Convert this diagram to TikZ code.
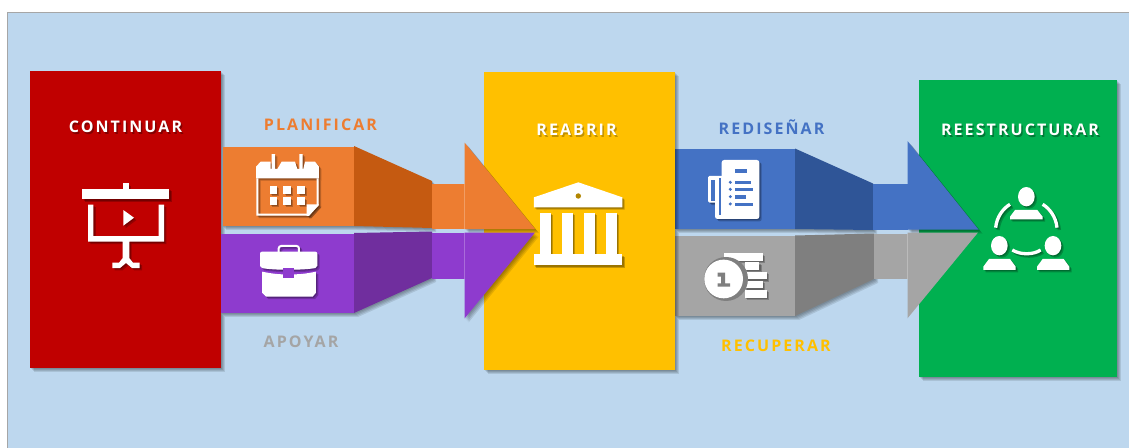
\documentclass[tikz,border=0pt]{standalone}
\usepackage{fontspec}
\newfontfamily\labfont[LetterSpace=13,BoldFont={Open Sans Bold}]{Open Sans}
\definecolor{bg}{HTML}{BDD7EE}
\definecolor{cred}{HTML}{C00000}
\definecolor{corange}{HTML}{ED7D31}
\definecolor{dorange}{HTML}{C55A11}
\definecolor{cpurple}{HTML}{8E3BCE}
\definecolor{dpurple}{HTML}{702E9E}
\definecolor{cyellow}{HTML}{FFC000}
\definecolor{cblue}{HTML}{4472C4}
\definecolor{dblue}{HTML}{2F5597}
\definecolor{cgray}{HTML}{A5A5A5}
\definecolor{dgray}{HTML}{7F7F7F}
\definecolor{cgreen}{HTML}{00B050}
\tikzset{
  panel/.style={inner sep=0pt,outer sep=0pt,minimum width=#1},
  lab/.style={inner sep=0pt,font=\labfont\bfseries\fontsize{16}{18}\selectfont,text height=11.4pt,text depth=0pt},
}
\newcommand\softshadow[1]{\foreach \d in {1,2,3,4}{\fill[black,opacity=.10,shift={(\d,\d)}] #1;}}
\newcommand\putIcon[1]{\foreach \d in {1.2,2.4}{\begin{scope}[shift={(\d,\d)},opacity=.22]#1{black}\end{scope}}#1{white}}
\newcommand\iconScreen[1]{\begin{scope}[fill=#1]
  \fill (82.3,189) rectangle (169.3,199.3);
  \fill (123.3,183.3) rectangle (128.7,189);
  \fill (88,204.7) -- (93.4,204.7) -- (93.4,236) -- (158.6,236) -- (158.6,204.7) -- (164,204.7) -- (164,241.7) -- (129.3,241.7) -- (129.3,258) -- (133,262.7) -- (139.7,262.7) -- (139.7,268) -- (132,268) -- (126,263) -- (120,268) -- (112.3,268) -- (112.3,262.7) -- (119,262.7) -- (122.7,258) -- (122.7,241.7) -- (88,241.7) -- cycle;
  \fill (123.3,210) -- (134,217.7) -- (123.3,225.7) -- cycle;
\end{scope}}
\newcommand\iconCal[1]{\begin{scope}[shift={(240,145)},x=.3333pt,y=-.3333pt,fill=#1,draw=#1]
  \fill (48,100) -- (48,65) -- (62,50) -- (92,50) -- (92,72) -- (95,72) -- (95,27) -- (105,27) -- (105,72) -- (112,72) -- (125,50) -- (165,50) -- (172,72) -- (178,72) -- (178,27) -- (188,27) -- (188,72) -- (190,72) -- (195,50) -- (225,50) -- (237,65) -- (237,100) -- cycle;
  \draw[line width=2pt] (52,100) -- (52,209) -- (205,209) -- (233,180) -- (233,100);
  \fill (200,213) -- (200,178) -- (237,178) -- (207,213) -- cycle;
  \foreach \x/\w in {90/20,130/22,172/23}{\foreach \y/\h in {122/25,157/23}{\fill (\x,\y) rectangle ++(\w,\h);}}
\end{scope}}
\newcommand\iconCase[1]{\begin{scope}[shift={(240,145)},x=.3333pt,y=-.3333pt,fill=#1,draw=#1]
  \draw[line width=2pt,rounded corners=2.5pt] (116,322) -- (116,303) -- (177,303) -- (177,322);
  \fill[rounded corners=2pt] (60,368) -- (60,320) -- (232,320) -- (232,368) .. controls (190,376) and (100,376) .. (60,368) -- cycle;
  \fill (66,380) .. controls (100,387) and (120,388) .. (130,388) -- (130,398) -- (162,398) -- (162,388) .. controls (175,388) and (195,387) .. (228,380) -- (228,443) -- (218,455) -- (78,455) -- (66,443) -- cycle;
\end{scope}}
\newcommand\iconBank[1]{\begin{scope}[shift={(350,60)},x=.3333pt,y=-.3333pt,fill=#1]
  \fill (552,412) -- (685,367) -- (817,412) -- (817,442) -- (552,442) -- cycle;
  \foreach \x in {570,636,702,768}{\fill (\x,459) rectangle ++(32,124);}
  \fill (552,583) rectangle (817,616);
\end{scope}}
\newcommand\iconDoc[1]{\begin{scope}[shift={(670,70)},x=.3333pt,y=-.3333pt,fill=#1]
  \fill[rounded corners=1.5pt] (114,318) rectangle (165,398);
  \fill[rounded corners=2.5pt] (155,270) -- (268,270) -- (268,447) -- (135,447) -- (135,390) -- (155,390) -- cycle;
\end{scope}}
\newcommand\iconCoins[1]{\begin{scope}[shift={(670,70)},x=.3333pt,y=-.3333pt,fill=#1]
  \fill (162,550) rectangle (279,572);
  \fill (225,577) rectangle (268,600);
  \fill (225,605) rectangle (290,628);
  \fill (225,632) rectangle (278,655);
  \fill (225,660) rectangle (290,683);
\end{scope}}
\newcommand\iconPeople[1]{\begin{scope}[shift={(980,175)},x=.3333pt,y=-.3333pt,fill=#1,draw=#1]
  \fill (139,65) ellipse [x radius=25,y radius=29];
  \fill (58,212) ellipse [x radius=25,y radius=29];
  \fill (219,212) ellipse [x radius=25,y radius=29];
  \fill (90,133) -- (90,125) -- (105,105) -- (172,105) -- (188,125) -- (188,133) -- cycle;
  \fill (10,285) -- (10,275) -- (27,252) -- (90,252) -- (107,275) -- (107,285) -- cycle;
  \fill (171,285) -- (171,275) -- (188,252) -- (251,252) -- (268,275) -- (268,285) -- cycle;
  \draw[line width=3.3pt] (47,158) .. controls (50,125) and (70,100) .. (90,88);
  \draw[line width=3.3pt] (188,88) .. controls (208,100) and (228,125) .. (231,158);
  \draw[line width=3.3pt] (97,225) .. controls (120,240) and (160,240) .. (182,225);
\end{scope}}
\begin{document}
\begin{tikzpicture}[x=1pt,y=-1pt]
\useasboundingbox (0,0) rectangle (1129,447);
\clip (0,0) rectangle (1129,447);
\fill[white] (0,0) rectangle (1129,447);
\draw[fill=bg,draw=black!35,line width=.7pt] (7,12) rectangle (1140,460);

% red panel
\softshadow{(30,71) rectangle (221,368)}
\node[panel=191pt,minimum height=297pt,fill=cred] (continuar) at (125.5,219.5) {};

% orange and purple bands
\softshadow{(222,147) rectangle (354,226)}
\fill[corange] (222.5,147) rectangle (354,226);
\softshadow{(354,146) -- (432,181) -- (432,228) -- (354,226) -- cycle}
\fill[dorange] (354,146) -- (432,181) -- (432,228) -- (354,226) -- cycle;
\softshadow{(221,233.5) rectangle (354,313)}
\fill[cpurple] (221,233.5) rectangle (354,313);
\softshadow{(354,233) -- (432,231.5) -- (432,278) -- (354,313) -- cycle}
\fill[dpurple] (354,233) -- (432,231.5) -- (432,278) -- (354,313) -- cycle;
\fill[corange] (432,183.5) rectangle (465,229);
\fill[cpurple] (432,232.5) rectangle (465,279);

% blue and gray bands
\softshadow{(675,149) rectangle (795,229)}
\fill[cblue] (675,149) rectangle (795,229);
\softshadow{(795,148.5) -- (873,183.5) -- (873,230) -- (795,229) -- cycle}
\fill[dblue] (795,148.5) -- (873,183.5) -- (873,230) -- (795,229) -- cycle;
\softshadow{(675,235.7) rectangle (795,315.7)}
\fill[cgray] (675,235.7) rectangle (795,315.7);
\softshadow{(795,235.5) -- (874,233.5) -- (874,279) -- (795,316) -- cycle}
\fill[dgray] (795,235.5) -- (874,233.5) -- (874,279) -- (795,316) -- cycle;
\fill[cblue] (873,183.5) rectangle (908,230);
\fill[cgray] (874,233.5) rectangle (908,279);

% yellow and green panels
\softshadow{(484,72) rectangle (675,370)}
\node[panel=191pt,minimum height=298pt,fill=cyellow] (reabrir) at (579.5,221) {};
\softshadow{(919,80) rectangle (1117,377)}
\node[panel=198pt,minimum height=297pt,fill=cgreen] (reestructurar) at (1018,228.5) {};

% arrow heads
\softshadow{(464.5,142.5) -- (535,229) -- (464.5,229) -- cycle}
\fill[corange] (464.5,142.5) -- (535,229) -- (464.5,229) -- cycle;
\softshadow{(464.5,232.5) -- (535,232.5) -- (464.5,318.5) -- cycle}
\fill[cpurple] (464.5,232.5) -- (535,232.5) -- (464.5,318.5) -- cycle;
\softshadow{(907.5,141) -- (978.5,229.5) -- (907.5,229.5) -- cycle}
\fill[cblue] (907.5,141) -- (978.5,229.5) -- (907.5,229.5) -- cycle;
\fill[cgray] (907.5,232.5) -- (978,232.5) -- (907.5,318.3) -- cycle;
\draw[white,opacity=.25,line width=.5pt] (464.5,183.5) -- (464.5,229);
\draw[white,opacity=.25,line width=.5pt] (464.5,232.5) -- (464.5,279);
\draw[white,opacity=.25,line width=.5pt] (907.5,233.5) -- (907.5,279);

% icons
\putIcon\iconScreen
\putIcon\iconCal
\putIcon\iconCase
\begin{scope}[shift={(240,145)},x=.3333pt,y=-.3333pt]
  \fill[cpurple] (130,368) rectangle (162,398);
\end{scope}
\putIcon\iconBank
\fill[cyellow!70!black] (578.3,196) circle (2.7);
\putIcon\iconDoc
\begin{scope}[shift={(670,70)},x=.3333pt,y=-.3333pt,fill=cblue]
  \fill (122,330) rectangle (135,392);
  \fill (147,325) rectangle (153,435);
  \fill (195,298) rectangle (232,310);
  \fill (195,333) rectangle (243,342);
  \fill (195,354) rectangle (248,364);
  \fill (195,376) rectangle (228,386);
  \fill (195,398) rectangle (248,408);
  \foreach \y in {337,358,380,402}{\fill (181,\y) circle (5);}
\end{scope}
\putIcon\iconCoins
\begin{scope}[shift={(670,70)},x=.3333pt,y=-.3333pt]
  \fill[dgray] (168,627) circle (66);
  \fill[white] (161,627) circle (58);
  \fill[dgray] (143,608) -- (165,608) -- (165,640) -- (180,640) -- (180,650) -- (143,650) -- (143,640) -- (153,640) -- (153,620) -- (143,620) -- cycle;
\end{scope}
\putIcon\iconPeople

% labels
\node[lab,text=cred!60!black,opacity=.8] (s1) at (127,128.5) {CONTINUAR};
\node[lab,text=cyellow!70!black,opacity=.8] (s2) at (578,131.5) {REABRIR};
\node[lab,text=cgreen!60!black,opacity=.8] (s3) at (1021.5,131.5) {REESTRUCTURAR};
\node[lab,text=white] (t1) at (125.5,127) {CONTINUAR};
\node[lab,text=white] (t2) at (576.5,130) {REABRIR};
\node[lab,text=white] (t3) at (1020,130) {REESTRUCTURAR};
\node[lab,text=corange] (l1) at (320.5,125) {PLANIFICAR};
\node[lab,text=cgray] (l2) at (301,342) {APOYAR};
\node[lab,text=cblue] (l3) at (771.5,129) {REDISEÑAR};
\node[lab,text=cyellow] (l4) at (776,346) {RECUPERAR};
\end{tikzpicture}
\end{document}
